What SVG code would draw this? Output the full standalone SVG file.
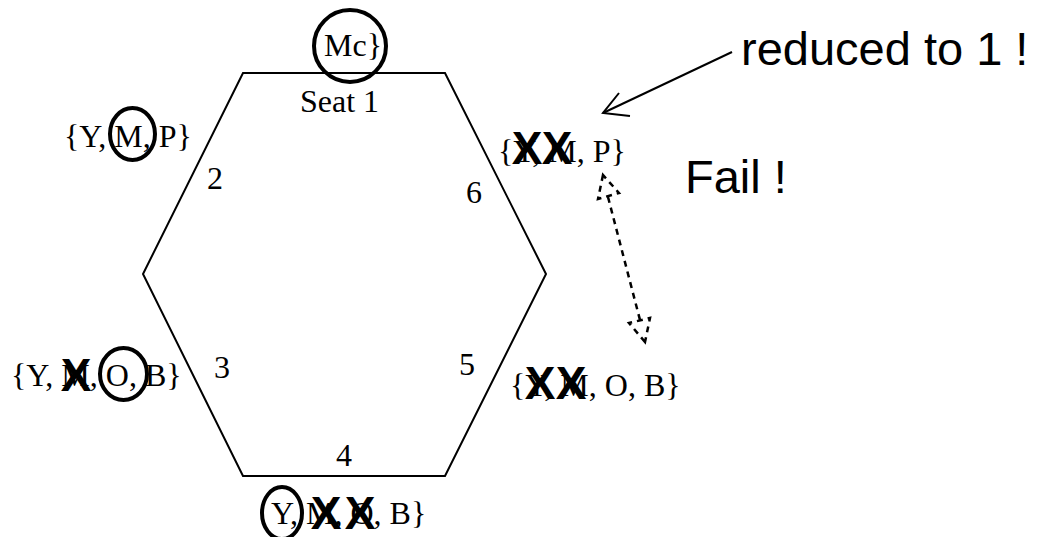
<svg xmlns="http://www.w3.org/2000/svg" width="1054" height="537" viewBox="0 0 1054 537">
  <style>
    .serif { font-family: "Liberation Serif", "Times New Roman", serif; font-size: 32px; fill: #000; }
    .sans { font-family: "Liberation Sans", Arial, sans-serif; font-size: 47px; fill: #000; }
    .cross { font-family: "Liberation Sans", Arial, sans-serif; font-weight: bold; font-size: 46px; fill: #000; text-anchor: middle; }
    .ring { fill: none; stroke: #000; stroke-width: 4; }
    .edge { fill: none; stroke: #000; stroke-width: 2; }
    .dash { fill: none; stroke: #000; stroke-width: 2.5; stroke-dasharray: 6 5; }
  </style>
  <rect width="1054" height="537" fill="#fff"/>

  <!-- table of six seats -->
  <g id="table">
    <polygon class="edge" points="243,73 445,73 546,274 445,476 243,476 143,274"/>
    <text class="serif" x="300" y="112">Seat 1</text>
    <text class="serif" x="207" y="189">2</text>
    <text class="serif" x="214" y="378">3</text>
    <text class="serif" x="336" y="466">4</text>
    <text class="serif" x="459" y="375">5</text>
    <text class="serif" x="466" y="203">6</text>
  </g>

  <!-- seat 1 domain -->
  <g id="seat1">
    <text class="serif" x="324" y="56">Mc}</text>
    <circle class="ring" cx="350" cy="46" r="36"/>
  </g>

  <!-- seat 2 domain -->
  <g id="seat2">
    <text class="serif" x="64" y="147">{Y, M, P}</text>
    <ellipse class="ring" cx="132.5" cy="134" rx="22.5" ry="26"/>
  </g>

  <!-- seat 3 domain -->
  <g id="seat3">
    <text class="serif" x="11" y="386">{Y, M, O, B}</text>
    <text class="cross" x="76" y="391">X</text>
    <ellipse class="ring" cx="123.5" cy="374" rx="23.5" ry="26"/>
  </g>

  <!-- seat 4 domain -->
  <g id="seat4">
    <text class="serif" x="271" y="524">Y, M, O, B}</text>
    <text class="cross" x="326" y="529">X</text>
    <text class="cross" x="360" y="529">X</text>
    <ellipse class="ring" cx="282" cy="513" rx="20" ry="26"/>
  </g>

  <!-- seat 5 domain -->
  <g id="seat5">
    <text class="serif" x="510" y="396">{Y, M, O, B}</text>
    <text class="cross" x="540" y="399">X</text>
    <text class="cross" x="571" y="399">X</text>
  </g>

  <!-- seat 6 domain -->
  <g id="seat6">
    <text class="serif" x="498" y="162">{Y, M, P}</text>
    <text class="cross" x="527" y="164">X</text>
    <text class="cross" x="557" y="164">X</text>
  </g>

  <!-- notes -->
  <g id="notes">
    <text class="sans" x="741" y="65">reduced to 1 !</text>
    <text class="sans" x="685" y="193">Fail !</text>
  </g>

  <!-- connectors -->
  <g id="connectors">
    <line class="edge" x1="732" y1="52" x2="603" y2="113"/>
    <polyline class="edge" points="619,93 603,113 630,116"/>
    <line class="dash" x1="608" y1="197" x2="640" y2="320"/>
    <polygon class="dash" points="603,175 598,199 619,193"/>
    <polygon class="dash" points="645,342 629,323 650,318"/>
  </g>
</svg>
